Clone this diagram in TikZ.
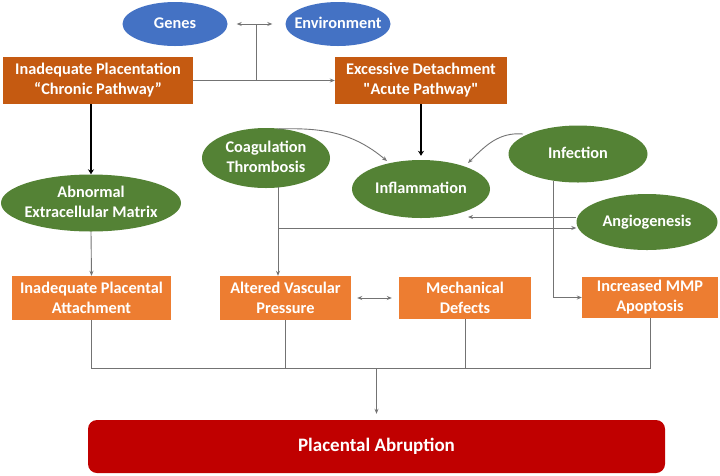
\documentclass[tikz,border=0pt]{standalone}
\usepackage{fontspec}
\setmainfont{Carlito}
\newfontfamily\rawfont{Carlito}[Ligatures=TeXOff]
\usetikzlibrary{shapes.geometric,arrows.meta,calc}
\definecolor{gblue}{HTML}{4472C4}
\definecolor{ggreen}{HTML}{548235}
\definecolor{dorange}{HTML}{C55A11}
\definecolor{lorange}{HTML}{ED7D31}
\definecolor{dred}{HTML}{C00000}
\definecolor{lgray}{HTML}{737373}
\newcommand\ztxt[1]{\makebox[0pt]{\begin{tabular}{@{}c@{}}#1\end{tabular}}}
\begin{document}
\begin{tikzpicture}[x=1pt,y=-1pt,
  font=\fontsize{16.3}{20}\selectfont\bfseries,
  ell/.style={ellipse, inner sep=0pt, text=white, fill=ggreen},
  bell/.style={ellipse, inner sep=0pt, text=white, fill=gblue},
  dbox/.style={rectangle, inner sep=0pt, align=center, text=white, fill=dorange},
  lbox/.style={rectangle, inner sep=0pt, align=center, text=white, fill=lorange},
  conn/.style={draw=lgray, line width=0.9pt},
  arr/.style={conn, -{Stealth[length=5pt,width=4pt]}},
  darr/.style={conn, {Stealth[length=5pt,width=4pt]}-{Stealth[length=5pt,width=4pt]}},
  thickarr/.style={draw=black, line width=2.2pt, -{Stealth[length=5pt,width=6pt]}}]
\useasboundingbox (0,0) rectangle (720,475);

% ellipses
\node[bell, minimum width=105, minimum height=44] (genes) at (175,24) {\ztxt{Genes}};
\node[bell, minimum width=105, minimum height=44] (env) at (338,24) {\ztxt{Environment}};
\node[ell, minimum width=180, minimum height=57] (ecm) at (91,203) {\ztxt{Abnormal\\Extracellular Matrix}};
\node[ell, minimum width=128, minimum height=60] (coag) at (266,158) {\ztxt{Coagulation\\Thrombosis}};
\node[ell, minimum width=138, minimum height=58] (infl) at (421,189) {\ztxt{Inflammation}};
\node[ell, minimum width=139, minimum height=57] (inf) at (578,154) {\ztxt{Infection}};
\node[ell, minimum width=141, minimum height=56] (angio) at (647,222) {\ztxt{Angiogenesis}};

% boxes
\node[dbox, minimum width=190, minimum height=47] (ip) at (98,80.5) {Inadequate Placentation\\``Chronic Pathway''};
\node[dbox, minimum width=172, minimum height=47] (ed) at (421,80.5) {Excessive Detachment\\{\rawfont\bfseries "}Acute Pathway{\rawfont\bfseries "}};
\node[lbox, minimum width=159, minimum height=44] (ipa) at (91.5,298) {Inadequate Placental\\Attachment};
\node[lbox, minimum width=131, minimum height=44] (avp) at (285.5,298) {Altered Vascular\\Pressure};
\node[lbox, minimum width=132, minimum height=42] (md) at (465,298) {Mechanical\\Defects};
\node[lbox, minimum width=136, minimum height=41] (mmp) at (650,297.5) {Increased MMP\\Apoptosis};
\node[rectangle, rounded corners=9pt, fill=dred, text=white, minimum width=577, minimum height=53,
      font=\fontsize{19}{23}\selectfont\bfseries] (pa) at (376.5,446.5) {Placental Abruption};

% top connectors
\draw[darr, shorten <=9pt, shorten >=13pt] (genes.east) -- (env.west);
\coordinate (gm) at ($(genes.east)!0.5!(env.west)$);
\draw[conn] (gm) -- (gm |- ip.east);
\draw[arr] (ip.east) -- (ed.west);

% thick arrows
\draw[thickarr] (ip.south -| ecm.north) -- (ecm.north);
\draw[thickarr, shorten >=4pt] (ed.south) -- (infl.north);

% curves into inflammation
\coordinate (c1) at ($(coag.center)+(11,-29)$);
\coordinate (c2) at ($(infl.center)+(-34,-28)$);
\draw[arr] (c1) to[out=2, in=140] (c2);
\coordinate (i1) at ($(inf.center)+(-55,-20)$);
\coordinate (i2) at ($(infl.center)+(47,-26)$);
\draw[arr] (i1) to[out=175, in=45] (i2);

% angiogenesis <-> inflammation lines
\coordinate (a1) at ($(angio.west)+(0,-5)$);
\coordinate (ib) at ($(infl.center)+(47,28)$);
\draw[arr] (a1) -- (ib);
\coordinate (cv) at ($(coag.south)+(12,-1)$);
\draw[arr] (cv) -- (cv |- avp.north);
\coordinate (a2) at ($(angio.west)+(0,6)$);
\draw[arr] (cv |- a2) -- (a2);

% infection to MMP
\coordinate (iv) at ($(inf.south)+(-25,-2)$);
\draw[arr] (iv) |- (mmp.west);

% ECM to attachment
\draw[arr] (ecm.south) -- (ipa.north);

% altered <-> mechanical
\draw[darr, shorten <=6pt, shorten >=7pt] (avp.east) -- (md.west);

% bottom bus
\coordinate (busL) at ($(ipa.south)+(0,48)$);
\draw[conn] (ipa.south) -- (busL) -| (mmp.south);
\draw[conn] (avp.south) -- (avp.south |- busL);
\draw[conn] (md.south) -- (md.south |- busL);
\draw[arr, shorten >=6pt] (pa.north |- busL) -- (pa.north);
\end{tikzpicture}
\end{document}
